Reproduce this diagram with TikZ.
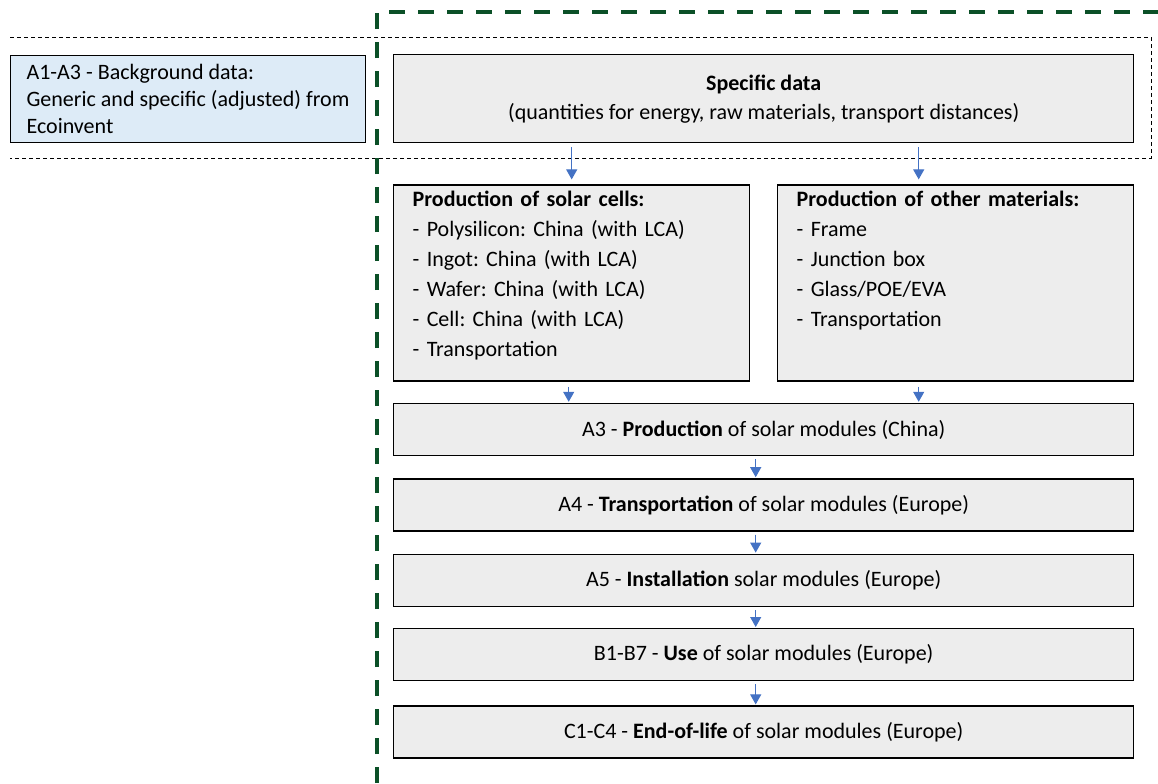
\documentclass[tikz,border=0pt]{standalone}
\usepackage{fontspec}
\setmainfont{Carlito}
\usepackage{tikz}
\usetikzlibrary{arrows.meta,positioning}
\frenchspacing
\definecolor{boxgray}{HTML}{EDEDED}
\definecolor{boxblue}{HTML}{DDEBF7}
\definecolor{arrowblue}{HTML}{4472C4}
\definecolor{framegreen}{HTML}{0B5027}
\tikzset{
  %Define standard arrow tip
  >={Triangle[width=5.5pt,length=5pt]},
  %Define style for boxes
  stepbox/.style={
    rectangle,
    draw=black, line width=0.7pt,
    fill=boxgray,
    minimum width=370pt,
    minimum height=26pt,
    inner sep=0pt,
    font=\fontsize{11}{13.5}\selectfont,
    text centered},
  listbox/.style={
    rectangle,
    draw=black, line width=0.7pt,
    fill=boxgray,
    text width=159pt,
    align=left,
    inner xsep=9.5pt, inner ysep=3pt,
    text height=7.5pt, text depth=84.5pt,
    font=\fontsize{11}{15}\selectfont},
  bgbox/.style={
    rectangle,
    draw=black, line width=0.6pt,
    fill=boxblue,
    align=left,
    inner xsep=8pt,
    minimum height=43.5pt,
    font=\fontsize{11}{13.5}\selectfont},
  % Define arrow style
  pil/.style={
    ->,
    draw=arrowblue, fill=arrowblue,
    line width=0.5pt,
    shorten <=2pt,
    shorten >=2.5pt,},
  % Define frame styles
  greenframe/.style={draw=framegreen, line width=2pt, dash pattern=on 8pt off 6.5pt},
  thinframe/.style={draw=black, line width=0.5pt, dash pattern=on 2pt off 1.5pt}
}

\begin{document}
\begin{tikzpicture}[x=0.5pt,y=-0.5pt]
  \useasboundingbox (0,0) rectangle (1158,783);
  \draw[thinframe] (10,37) -- (1151,37) -- (1151,158) -- (10,158);
  \draw[greenframe] (377,783) -- (377,12) -- (1158,12);

  \node[bgbox, anchor=north west] (bg) at (10,55)
    {A1-A3 - Background data:\\Generic and specific (adjusted) from\\Ecoinvent};
  \node[stepbox, minimum height=44pt, align=center,
        font=\fontsize{11}{14.5}\selectfont, anchor=north west] (spec) at (393,54)
    {\textbf{Specific data}\\(quantities for energy, raw materials, transport distances)};

  \node[listbox, below=20.5pt of spec.south west, anchor=north west] (cells)
    {\textbf{Production of solar cells:}\\
     - Polysilicon: China (with LCA)\\
     - Ingot: China (with LCA)\\
     - Wafer: China (with LCA)\\
     - Cell: China (with LCA)\\
     - Transportation};
  \node[listbox, below=20.5pt of spec.south east, anchor=north east] (other)
    {\textbf{Production of other materials:}\\
     - Frame\\
     - Junction box\\
     - Glass/POE/EVA\\
     - Transportation};

  \node[stepbox, below=10.5pt of cells.south west, anchor=north west] (prod)
    {A3 - \textbf{Production} of solar modules (China)};
  \node[stepbox, below=11pt of prod] (trans)
    {A4 - \textbf{Transportation} of solar modules (Europe)};
  \node[stepbox, below=11pt of trans] (inst)
    {A5 - \textbf{Installation} solar modules (Europe)};
  \node[stepbox, below=10.5pt of inst] (use)
    {B1-B7 - \textbf{Use} of solar modules (Europe)};
  \node[stepbox, below=12pt of use] (eol)
    {C1-C4 - \textbf{End-of-life} of solar modules (Europe)};

  \draw[pil] (spec.south -| cells) -- (cells);
  \draw[pil] ([xshift=-18.5pt]other.north |- spec.south) -- ([xshift=-18.5pt]other.north);
  \draw[pil, shorten <=2.5pt, shorten >=0.5pt] ([xshift=-1.5pt]cells.south) -- ([xshift=-1.5pt]cells.south |- prod.north);
  \draw[pil, shorten <=2.5pt, shorten >=0.5pt] ([xshift=-18.5pt]other.south) -- ([xshift=-18.5pt]other.south |- prod.north);
  \draw[pil, shorten <=1.5pt, shorten >=0.5pt] ([xshift=-4pt]prod.south) -- ([xshift=-4pt]trans.north);
  \draw[pil, shorten <=1.5pt, shorten >=0.5pt] ([xshift=-4pt]trans.south) -- ([xshift=-4pt]inst.north);
  \draw[pil, shorten <=1.5pt, shorten >=0.5pt] ([xshift=-4pt]inst.south) -- ([xshift=-4pt]use.north);
  \draw[pil, shorten <=1.5pt, shorten >=0.5pt] ([xshift=-4pt]use.south) -- ([xshift=-4pt]eol.north);
\end{tikzpicture}
\end{document}
